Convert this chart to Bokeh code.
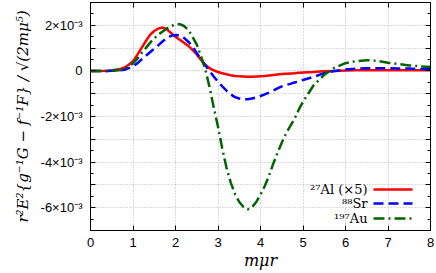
import numpy as np
from bokeh.plotting import figure
from bokeh.models import FixedTicker, LinearAxis, Label, Arrow, Range1d
from bokeh.embed import file_html
from bokeh.resources import INLINE

# x = m_mu * r
x = [0.0, 0.2, 0.4, 0.5, 0.6, 0.7, 0.8, 0.9, 1.0, 1.1, 1.2, 1.3, 1.4, 1.5, 1.6, 1.7, 1.8, 1.9,
     2.0, 2.1, 2.2, 2.3, 2.4, 2.5, 2.6, 2.7, 2.8, 2.9, 3.0, 3.1, 3.2, 3.3, 3.4, 3.5, 3.6, 3.7,
     3.8, 3.9, 4.0, 4.1, 4.2, 4.3, 4.4, 4.5, 4.6, 4.7, 4.8, 4.9, 5.0, 5.25, 5.5, 5.75, 6.0,
     6.25, 6.5, 6.75, 7.0, 7.25, 7.5, 7.75, 8.0]

# values in units of 1e-3
al_x5 = [0.0, 0.0, 0.01, 0.02, 0.05, 0.08, 0.15, 0.27, 0.42, 0.7, 1.0, 1.3, 1.58, 1.75, 1.86, 1.9, 1.82, 1.65,
         1.5, 1.37, 1.23, 1.1, 0.92, 0.72, 0.48, 0.27, 0.12, 0.02, -0.05, -0.1, -0.15, -0.19, -0.22, -0.24, -0.25, -0.26,
         -0.26, -0.25, -0.24, -0.22, -0.2, -0.18, -0.16, -0.14, -0.12, -0.11, -0.1, -0.08, -0.07, -0.05, -0.02, 0.0, 0.02,
         0.03, 0.03, 0.03, 0.03, 0.03, 0.03, 0.03, 0.03]
sr = [0.0, 0.0, 0.0, 0.01, 0.02, 0.03, 0.05, 0.12, 0.2, 0.33, 0.5, 0.66, 0.82, 0.97, 1.13, 1.3, 1.45, 1.54,
      1.57, 1.56, 1.45, 1.28, 1.08, 0.78, 0.5, 0.25, 0.0, -0.25, -0.47, -0.68, -0.87, -1.03, -1.15, -1.21, -1.24, -1.24,
      -1.21, -1.16, -1.1, -1.03, -0.95, -0.86, -0.77, -0.68, -0.62, -0.57, -0.51, -0.46, -0.4, -0.26, -0.1, 0.0, 0.06,
      0.1, 0.12, 0.12, 0.12, 0.11, 0.1, 0.08, 0.07]
au = [0.0, 0.0, 0.0, 0.01, 0.02, 0.04, 0.08, 0.2, 0.33, 0.53, 0.78, 1.0, 1.23, 1.43, 1.6, 1.73, 1.87, 1.97,
      2.04, 2.05, 1.97, 1.8, 1.5, 1.15, 0.65, 0.08, -0.7, -1.6, -2.45, -3.4, -4.25, -4.9, -5.4, -5.75, -5.97, -6.07,
      -5.98, -5.75, -5.42, -5.05, -4.6, -4.07, -3.6, -3.15, -2.75, -2.42, -2.1, -1.7, -1.35, -0.63, -0.17, 0.15, 0.34,
      0.43, 0.47, 0.44, 0.36, 0.3, 0.24, 0.2, 0.17]

x_ticks = [0, 1, 2, 3, 4, 5, 6, 7, 8]
y_ticks = [-7, -6, -5, -4, -3, -2, -1, 0, 1, 2, 3]
y_minor = [-6.5, -5.5, -4.5, -3.5, -2.5, -1.5, -0.5, 0.5, 1.5, 2.5]
y_tick_labels = {-7: "", -6: "-6×10⁻³", -5: "", -4: "-4×10⁻³", -3: "", -2: "-2×10⁻³", -1: "",
                 0: "0", 1: "", 2: "2×10⁻³", 3: ""}
labels = ["²⁷Al (×5)", "⁸⁸Sr", "¹⁹⁷Au"]
colors = ["#ff0000", "#0000ff", "#006400"]
dashes = ["solid", "10 5", "11 4 2 4"]

p = figure(width=436, height=273, output_backend="svg", toolbar_location=None,
           x_range=Range1d(0, 8), y_range=Range1d(-7, 3),
           min_border_left=90, min_border_right=6, min_border_top=2, min_border_bottom=43)
p.background_fill_color = "white"
p.border_fill_color = "white"
p.outline_line_color = "black"
p.outline_line_width = 1

xt = FixedTicker(ticks=x_ticks, minor_ticks=[])
yt = FixedTicker(ticks=y_ticks, minor_ticks=y_minor)

for ax in (p.xaxis[0], p.yaxis[0]):
    ax.major_tick_in = 5
    ax.major_tick_out = 0
    ax.minor_tick_in = 3
    ax.minor_tick_out = 0
    ax.axis_line_color = "black"
    ax.major_label_text_font = "Liberation Sans"
    ax.major_label_text_font_size = "13px"
    ax.major_label_text_color = "black"
    ax.axis_label_text_font = "DejaVu Serif"
    ax.axis_label_text_font_style = "italic"
    ax.axis_label_text_color = "black"

p.xaxis[0].ticker = xt
p.yaxis[0].ticker = yt
p.yaxis[0].major_label_overrides = y_tick_labels
p.xaxis[0].major_label_standoff = 7
p.yaxis[0].major_label_standoff = 8
p.xaxis[0].axis_label = "mμr"
p.xaxis[0].axis_label_text_font_size = "16px"
p.xaxis[0].axis_label_standoff = 1
p.yaxis[0].axis_label = "r²E²{g⁻¹G − f⁻¹F} / √(2mμ⁵)"
p.yaxis[0].axis_label_text_font_size = "15px"
p.yaxis[0].axis_label_standoff = 6

# mirrored tick axes (no labels)
r_ax = LinearAxis(ticker=yt, major_label_overrides={t: "" for t in y_ticks},
                  major_label_text_font_size="1px", major_label_standoff=0,
                  major_tick_in=5, major_tick_out=0, minor_tick_in=3, minor_tick_out=0)
t_ax = LinearAxis(ticker=xt, major_label_overrides={t: "" for t in x_ticks},
                  major_label_text_font_size="1px", major_label_standoff=0,
                  major_tick_in=5, major_tick_out=0, minor_tick_in=3, minor_tick_out=0)
p.add_layout(r_ax, "right")
p.add_layout(t_ax, "above")

p.xgrid.ticker = xt
p.ygrid.ticker = yt
for g in (p.xgrid[0], p.ygrid[0]):
    g.grid_line_color = "#b4b4b4"
    g.grid_line_dash = "1 2"
    g.grid_line_width = 1

xs = np.array(x)
series = [al_x5, sr, au]
for ys, c, d in zip(series, colors, dashes):
    p.line(xs, np.array(ys), line_color=c, line_width=2.5, line_dash=d)

# legend (text right-aligned, sample line on the right); screen units relative to the frame
row_y = [41, 27, 12]
for lab, c, d, yy in zip(labels, colors, dashes, row_y):
    p.add_layout(Label(x=277, y=yy, x_units="screen", y_units="screen", text=lab,
                       text_align="right", text_baseline="middle",
                       text_font="DejaVu Serif", text_font_size="13px", text_color="black"))
    p.add_layout(Arrow(x_start=283, y_start=yy, x_end=322, y_end=yy,
                       start_units="screen", end_units="screen", start=None, end=None,
                       line_color=c, line_width=2.5, line_dash=d))

open("out.html", "w").write(file_html(p, INLINE))
